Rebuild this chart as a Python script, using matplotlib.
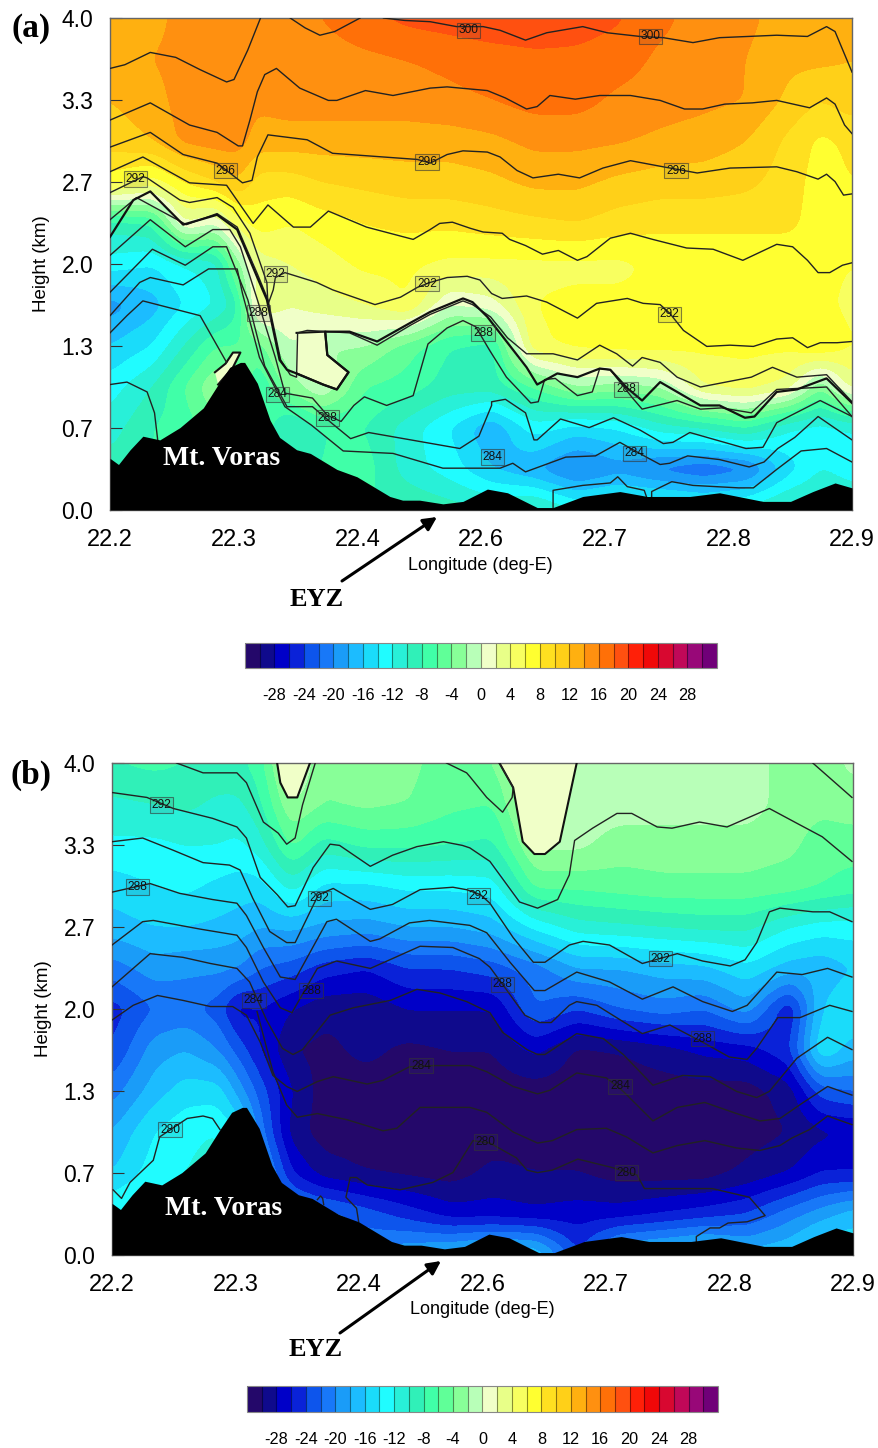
"""Two cross-sections (Mt. Voras): temperature anomaly shading with potential temperature lines."""
import numpy as np
import matplotlib
matplotlib.use("Agg")
import matplotlib.pyplot as plt
from matplotlib.patches import FancyArrowPatch

plt.rcParams["font.family"] = ["Liberation Sans", "DejaVu Sans"]
plt.rcParams["axes.unicode_minus"] = False

W, H = 879, 1448

# colour boxes, -32 .. 32 in steps of 2
LEVELS = np.arange(-32, 33, 2)
BOX_COLORS = ["#24086a", "#0f0a8c", "#0000c8", "#0a22d8", "#0d55ec", "#1878f8", "#1a9cf8", "#1cbcff",
              "#1adcfa", "#20fcff", "#28f0d8", "#30f0b8", "#40ffa8", "#60ff98", "#88ff98", "#b8ffb8",
              "#f0ffc8", "#e8ff88", "#f8ff60", "#ffff30", "#ffe020", "#ffd018", "#ffb010", "#ff9010",
              "#ff7008", "#ff5010", "#ff2008", "#f00808", "#d80830", "#c00858", "#980878", "#700078"]

X_TICKS = np.linspace(22.2, 22.9, 7)
X_LABELS = ["22.2", "22.3", "22.4", "22.6", "22.7", "22.8", "22.9"]
Y_TICKS = np.linspace(0, 4, 7)
Y_LABELS = ["0.0", "0.7", "1.3", "2.0", "2.7", "3.3", "4.0"]
BAR_TICKS = np.arange(-28, 29, 4)

GRID_LON = [22.20, 22.24, 22.27, 22.30, 22.32, 22.34, 22.37, 22.40, 22.44, 22.48, 22.52,
            22.56, 22.60, 22.64, 22.68, 22.72, 22.76, 22.80, 22.84, 22.87, 22.90]
GRID_KM = [0, 0.333, 0.667, 1.0, 1.333, 1.667, 2.0, 2.333, 2.667, 3.0, 3.333, 3.667, 4.0]

FIELD_A = [
    [-8, -8, -8, -8, -8, -8, -8, -8, -8, -8, -9, -10, -9, -12, -11, -11, -12, -11, -9, -9, -10],
    [-9, -8, -7, -7, -7, -7, -8, -8, -7, -11, -13, -16, -18, -21, -19, -21, -22, -21, -15, -12, -13],
    [-11, -8, -7, -5, -5, -6, -11, -8, -8, -11, -14, -18, -13, -15, -14, -11, -10, -8, -12, -13, -12],
    [-13, -10, -6, -2, -3, -8, -3, 0, -6, -7, -9, -9, -6, -2, -3, -2, 4, 5, 3, -4, 3],
    [-16, -14, -10, -6, -6, -5, 0, -2, -2, -5, -8, -9, 5.5, 6.5, 7, 7, 6.5, 6.5, 6.5, 8, 6],
    [-19, -17, -14, -12, -9, 4, 2, 3, 4, 6, 0, 1, 6, 6.5, 6.5, 6.5, 6.5, 6.5, 6.5, 6.5, 5.5],
    [-13, -14, -12, -11, -3, 3, 4, 5, 6.5, 6.5, 5.5, 5.5, 5.5, 5.5, 5.5, 6.5, 6.5, 6.5, 6.5, 6.5, 6],
    [-9, -8, 2, 0, 5, 7, 6, 7, 8, 8.5, 8.5, 9, 9.5, 10, 9, 8.5, 8.5, 8.5, 8.5, 7, 8],
    [7, 5, 8, 10, 12, 9, 9, 10, 10.5, 11, 11, 11.5, 12.5, 12.5, 11.5, 11, 11, 10.5, 9, 7, 8],
    [11, 12, 14.5, 15, 15, 13, 13, 13, 13, 13, 13, 13.5, 14.5, 14.5, 14.2, 13.5, 13, 12, 9.5, 7.5, 8.5],
    [12, 13, 15, 15, 15, 14.5, 15, 15, 15, 15, 15.5, 16, 16.8, 16.8, 15.5, 15, 14.5, 14, 11.5, 10, 11],
    [13, 14, 15, 15, 15, 15, 15, 15, 15.5, 16, 16.5, 17, 17.5, 17.5, 17, 15.5, 15, 14, 12.5, 12.5, 12],
    [13, 13, 15, 15, 15, 15, 15.5, 16, 17.5, 18.5, 19, 19.5, 19.5, 19, 18.2, 16.5, 15, 14.5, 13, 13, 14],
]
FIELD_B = [
    [-10, -10, -10, -12, -14, -18, -20, -21, -20, -18, -17, -15.5, -16, -24, -17, -16, -15, -17, -16, -13, -14],
    [-12, -10.5, -10, -11, -14, -18, -20, -21, -23, -25, -27, -27, -27.5, -27, -27, -26, -25, -24, -21, -19, -17],
    [-16, -13, -12, -11, -12, -18, -26, -29, -30, -30.5, -31, -29.5, -30, -30, -31, -31, -31, -29.5, -28, -26, -26],
    [-18, -14, -12.5, -12, -14, -21, -29, -31, -31, -31, -31, -31, -31, -31, -31, -31, -31, -31, -30, -28.5, -28],
    [-21, -17, -15, -15, -19, -23, -28, -31, -31, -31, -31, -31, -31, -31, -31, -31, -31, -31, -29, -23, -22],
    [-24, -19, -18, -20, -23, -26, -30, -30.5, -29.5, -30.5, -30, -30, -27.5, -30.5, -30, -29, -27.5, -27, -24.5, -14, -17],
    [-25, -22, -21.5, -23, -27, -26, -28, -29.5, -29.5, -28, -28, -28, -22, -24, -22, -21, -22, -19, -26, -16, -14],
    [-21, -19, -19.5, -19.5, -20, -22, -23, -25, -26, -24, -24, -23, -21, -18, -18, -17, -16.5, -14.5, -17, -17.5, -16],
    [-17, -16, -16, -16.5, -17, -18, -17.5, -18.5, -19, -18, -18, -17, -13.5, -11, -10.5, -10, -9.5, -9.5, -12, -13, -13],
    [-15, -14, -13.5, -14.5, -15, -15, -11, -14.5, -14.5, -13.5, -13.5, -13, -5.5, -5.5, -5, -4.5, -4.5, -4.5, -5, -6, -7],
    [-12.5, -12.5, -12, -12, -12.5, -11, -5.5, -9, -7.5, -7.5, -8, -8.5, -1.5, -1.5, -3, -3, -3, -3, -3.5, -5, -5],
    [-10.5, -10, -9.5, -10.5, -10.5, -8.5, -2, -4, -3.5, -4, -5.5, -6, 0.5, -1, -1, -1, -1, -1, -3, -3.5, -3],
    [-8, -7.5, -8, -8.5, -8.5, -7, 1, -4, -4, -3.5, -5, -4, 1, -1, -1, -1, -1, -1, -3, -3, -1.5],
]

TERRAIN = [(22.2, 0.42), (22.208, 0.37), (22.219, 0.49), (22.231, 0.60), (22.247, 0.57), (22.266, 0.67),
           (22.288, 0.83), (22.302, 1.02), (22.313, 1.16), (22.323, 1.20), (22.327, 1.20), (22.339, 1.03),
           (22.351, 0.73), (22.36, 0.59), (22.376, 0.49), (22.389, 0.46), (22.414, 0.33), (22.433, 0.27),
           (22.464, 0.11), (22.476, 0.08), (22.492, 0.08), (22.514, 0.05), (22.533, 0.07), (22.556, 0.17),
           (22.575, 0.14), (22.603, 0.02), (22.618, 0.02), (22.646, 0.11), (22.681, 0.15), (22.707, 0.11),
           (22.747, 0.11), (22.775, 0.14), (22.816, 0.07), (22.842, 0.07), (22.863, 0.15), (22.884, 0.22),
           (22.9, 0.18)]

# pale patches with a heavy outline
PATCH_A1 = [(22.376, 1.44), (22.403, 1.45), (22.405, 1.26), (22.425, 1.12), (22.414, 0.98), (22.401, 1.02), (22.376, 1.11)]
PATCH_A2 = [(22.299, 1.12), (22.309, 1.19), (22.316, 1.28), (22.323, 1.28), (22.316, 1.16), (22.302, 1.02)]
PATCH_B1 = [(22.356, 4.0), (22.359, 3.84), (22.366, 3.72), (22.375, 3.72), (22.387, 4.0)]
PATCH_B2 = [(22.566, 4.0), (22.579, 3.80), (22.588, 3.36), (22.599, 3.26), (22.609, 3.26), (22.623, 3.36), (22.639, 4.0)]

# panel (a) isentropes, (lon, km)
A_1 = [(22.2, 3.59), (22.214, 3.62), (22.238, 3.72), (22.262, 3.68), (22.285, 3.58), (22.31, 3.48),
       (22.317, 3.50), (22.33, 3.74), (22.342, 4.0)]
A_2 = [(22.37, 4.0), (22.384, 3.92), (22.398, 3.86), (22.412, 3.89), (22.436, 4.0)]
A_3 = [(22.458, 4.0), (22.478, 3.98), (22.502, 3.97), (22.527, 3.93), (22.552, 3.93), (22.568, 3.90),
       (22.592, 3.82), (22.612, 3.88), (22.646, 3.93), (22.669, 3.88), (22.7, 3.85), (22.722, 3.84),
       (22.75, 3.80), (22.775, 3.84), (22.829, 3.86), (22.858, 3.85), (22.876, 3.93), (22.884, 3.89), (22.9, 3.56)]
A_4 = [(22.2, 3.17), (22.238, 3.31), (22.275, 3.13), (22.301, 3.07), (22.321, 2.96), (22.325, 2.96),
       (22.332, 3.17), (22.339, 3.40), (22.346, 3.54), (22.357, 3.59), (22.379, 3.43), (22.406, 3.33),
       (22.414, 3.33), (22.441, 3.41), (22.467, 3.37), (22.502, 3.43), (22.518, 3.44), (22.556, 3.41),
       (22.573, 3.35), (22.593, 3.26), (22.603, 3.28), (22.615, 3.37), (22.639, 3.34), (22.662, 3.37),
       (22.691, 3.37), (22.719, 3.33), (22.742, 3.26), (22.759, 3.26), (22.78, 3.30), (22.806, 3.31),
       (22.829, 3.33), (22.86, 3.27), (22.876, 3.35), (22.884, 3.30), (22.893, 3.13), (22.9, 3.06)]
A_5 = [(22.2, 2.95), (22.238, 3.07), (22.269, 2.89), (22.301, 2.82), (22.325, 2.66), (22.334, 2.68),
       (22.339, 2.87), (22.349, 3.05), (22.386, 3.01), (22.41, 2.90), (22.442, 2.88), (22.49, 2.85),
       (22.502, 2.82), (22.518, 2.89), (22.533, 2.92), (22.556, 2.91), (22.568, 2.87), (22.584, 2.76),
       (22.599, 2.70), (22.623, 2.73), (22.643, 2.70), (22.665, 2.78), (22.691, 2.84), (22.722, 2.79),
       (22.754, 2.74), (22.785, 2.78), (22.829, 2.79), (22.848, 2.75), (22.868, 2.69), (22.876, 2.73),
       (22.884, 2.67), (22.892, 2.56), (22.9, 2.57)]
A_6 = [(22.2, 2.75), (22.231, 2.87), (22.275, 2.66), (22.31, 2.64), (22.335, 2.33), (22.349, 2.48),
       (22.373, 2.30), (22.389, 2.30), (22.406, 2.43), (22.442, 2.30), (22.486, 2.20), (22.502, 2.28),
       (22.511, 2.33), (22.523, 2.34), (22.54, 2.29), (22.552, 2.26), (22.57, 2.25), (22.577, 2.20),
       (22.592, 2.15), (22.608, 2.08), (22.623, 2.11), (22.641, 2.03), (22.65, 2.06), (22.672, 2.21),
       (22.691, 2.25), (22.712, 2.20), (22.744, 2.13), (22.769, 2.12), (22.797, 2.03), (22.829, 2.16),
       (22.844, 2.14), (22.858, 2.03), (22.868, 1.93), (22.879, 1.93), (22.891, 1.99), (22.9, 2.01)]
A_7 = [(22.2, 2.58), (22.231, 2.71), (22.235, 2.70), (22.266, 2.52), (22.275, 2.50), (22.301, 2.54),
       (22.316, 2.46), (22.332, 2.25), (22.348, 1.85), (22.349, 1.67), (22.354, 1.79), (22.356, 1.89),
       (22.365, 1.93), (22.395, 1.85), (22.41, 1.79), (22.45, 1.67), (22.474, 1.73), (22.49, 1.81),
       (22.502, 1.85), (22.518, 1.89), (22.537, 1.90), (22.549, 1.87), (22.56, 1.76), (22.57, 1.72),
       (22.593, 1.74), (22.612, 1.69), (22.641, 1.56), (22.659, 1.68), (22.688, 1.72), (22.703, 1.68),
       (22.719, 1.67), (22.728, 1.60), (22.741, 1.46), (22.763, 1.33), (22.785, 1.34), (22.807, 1.33),
       (22.829, 1.39), (22.844, 1.40), (22.858, 1.32), (22.87, 1.36), (22.886, 1.36), (22.9, 1.37)]
A_8 = [(22.2, 2.36), (22.225, 2.54), (22.272, 2.32), (22.301, 2.41), (22.32, 2.30), (22.339, 1.92),
       (22.349, 1.71), (22.361, 1.22), (22.37, 1.10), (22.376, 1.08), (22.377, 1.44), (22.386, 1.46),
       (22.426, 1.44), (22.452, 1.34), (22.483, 1.50), (22.502, 1.59), (22.533, 1.70), (22.542, 1.67),
       (22.559, 1.57), (22.575, 1.40), (22.593, 1.27), (22.618, 1.27), (22.641, 1.22), (22.662, 1.34),
       (22.678, 1.27), (22.693, 1.17), (22.702, 1.24), (22.719, 1.20), (22.735, 1.08), (22.757, 1.00),
       (22.805, 1.08), (22.825, 1.16), (22.848, 1.08), (22.876, 1.10), (22.9, 0.88)]
A_9 = [(22.2, 2.22), (22.222, 2.52), (22.238, 2.59), (22.269, 2.32), (22.301, 2.40), (22.32, 2.28),
       (22.339, 1.89), (22.348, 1.71), (22.36, 1.22), (22.367, 1.14), (22.376, 1.11), (22.401, 1.02),
       (22.414, 0.98), (22.425, 1.12), (22.405, 1.26), (22.403, 1.45), (22.426, 1.45), (22.452, 1.37),
       (22.483, 1.52), (22.502, 1.61), (22.533, 1.72), (22.542, 1.69), (22.556, 1.57), (22.575, 1.36),
       (22.593, 1.16), (22.603, 1.02), (22.622, 1.11), (22.641, 1.08), (22.662, 1.15), (22.672, 1.14),
       (22.688, 0.99), (22.702, 0.89), (22.719, 1.04), (22.757, 0.85), (22.775, 0.85), (22.799, 0.75),
       (22.808, 0.76), (22.829, 0.96), (22.848, 0.98), (22.876, 1.07), (22.9, 0.87)]
A_10 = [(22.2, 2.07), (22.238, 2.36), (22.271, 2.14), (22.297, 2.28), (22.313, 2.28), (22.323, 2.14),
        (22.339, 1.71), (22.356, 1.24), (22.365, 0.95), (22.391, 0.91), (22.405, 0.77), (22.418, 0.72),
        (22.43, 0.85), (22.44, 0.92), (22.461, 0.85), (22.486, 0.93), (22.5, 1.35), (22.518, 1.48),
        (22.533, 1.54), (22.545, 1.49), (22.558, 1.30), (22.574, 1.08), (22.597, 0.87), (22.604, 0.88),
        (22.61, 1.06), (22.62, 1.07), (22.641, 0.93), (22.655, 0.96), (22.662, 1.15), (22.672, 1.14),
        (22.693, 0.91), (22.702, 0.82), (22.735, 0.89), (22.757, 0.82), (22.777, 0.83), (22.805, 0.79),
        (22.829, 0.98), (22.876, 1.0), (22.9, 0.76)]
A_11 = [(22.2, 1.77), (22.24, 2.12), (22.271, 1.99), (22.297, 2.14), (22.31, 2.14), (22.33, 1.71),
        (22.346, 1.17), (22.367, 0.84), (22.391, 0.84), (22.41, 0.70), (22.427, 0.58), (22.444, 0.63),
        (22.53, 0.50), (22.548, 0.60), (22.56, 0.85), (22.56, 0.88), (22.573, 0.90), (22.592, 0.79),
        (22.6, 0.57), (22.603, 0.57), (22.625, 0.74), (22.652, 0.67), (22.675, 0.75), (22.7, 0.65),
        (22.722, 0.54), (22.731, 0.55), (22.747, 0.63), (22.8, 0.50), (22.816, 0.51), (22.829, 0.71),
        (22.87, 0.89), (22.9, 0.76)]
A_12 = [(22.2, 1.58), (22.228, 1.85), (22.238, 1.89), (22.269, 1.83), (22.293, 1.96), (22.32, 1.96),
        (22.325, 1.76), (22.341, 1.24), (22.365, 0.84), (22.39, 0.69), (22.41, 0.55), (22.42, 0.48),
        (22.467, 0.46), (22.514, 0.34), (22.568, 0.34), (22.58, 0.38), (22.592, 0.31), (22.63, 0.43),
        (22.658, 0.44), (22.681, 0.55), (22.706, 0.43), (22.719, 0.37), (22.728, 0.38), (22.745, 0.44),
        (22.775, 0.41), (22.803, 0.35), (22.817, 0.39), (22.83, 0.50), (22.846, 0.59), (22.868, 0.76), (22.9, 0.57)]
A_13 = [(22.2, 1.44), (22.216, 1.58), (22.231, 1.70), (22.285, 1.58), (22.31, 1.20)]
A_14 = [(22.2, 1.02), (22.216, 1.04), (22.235, 0.96), (22.242, 0.79), (22.245, 0.57)]
A_15 = [(22.9, 0.39), (22.876, 0.50), (22.852, 0.48), (22.829, 0.33), (22.807, 0.18), (22.793, 0.18),
        (22.75, 0.20), (22.73, 0.23), (22.711, 0.15), (22.711, 0.11)]
A_16 = [(22.618, 0.02), (22.618, 0.16), (22.646, 0.20), (22.672, 0.22), (22.679, 0.27), (22.688, 0.19),
        (22.704, 0.16), (22.706, 0.11)]
LINES_A = [A_1, A_2, A_3, A_4, A_5, A_6, A_7, A_8, A_10, A_11, A_12, A_13, A_14, A_15, A_16]
BOLD_A = [A_9]

# panel (b) isentropes
B_1 = [(22.261, 4.0), (22.286, 3.92), (22.318, 3.92), (22.327, 3.84), (22.343, 3.52), (22.357, 3.43),
       (22.365, 3.34), (22.373, 3.39), (22.38, 3.66), (22.392, 4.0)]
B_2 = [(22.2, 3.76), (22.233, 3.72), (22.258, 3.63), (22.295, 3.55), (22.318, 3.48), (22.327, 3.39),
       (22.34, 3.07), (22.356, 2.93), (22.366, 2.83), (22.373, 2.84), (22.39, 3.15), (22.406, 3.34),
       (22.415, 3.33), (22.444, 3.16), (22.465, 3.25), (22.488, 3.32), (22.513, 3.36), (22.531, 3.33),
       (22.538, 3.31), (22.557, 3.20), (22.585, 2.87), (22.602, 2.82), (22.621, 2.89), (22.632, 3.09),
       (22.637, 3.37), (22.654, 3.47), (22.677, 3.59), (22.691, 3.59), (22.715, 3.48), (22.729, 3.47),
       (22.755, 3.52), (22.781, 3.48), (22.821, 3.63), (22.847, 3.51), (22.871, 3.40), (22.899, 3.20)]
B_3 = [(22.516, 4.0), (22.535, 3.92), (22.538, 3.89), (22.554, 3.72), (22.569, 3.60), (22.578, 3.72),
       (22.579, 3.80), (22.566, 4.0)]
B_4 = [(22.862, 4.0), (22.899, 3.72)]
B_5 = [(22.2, 3.36), (22.229, 3.39), (22.258, 3.29), (22.286, 3.19), (22.311, 3.17), (22.321, 3.13),
       (22.333, 2.90), (22.349, 2.63), (22.365, 2.54), (22.373, 2.54), (22.395, 2.93), (22.409, 2.98),
       (22.425, 2.90), (22.444, 2.81), (22.465, 2.85), (22.491, 2.97), (22.522, 2.99), (22.535, 2.97),
       (22.548, 2.93), (22.557, 2.86), (22.579, 2.58), (22.598, 2.38), (22.609, 2.38), (22.632, 2.52),
       (22.645, 2.55), (22.67, 2.52), (22.701, 2.37), (22.734, 2.45), (22.758, 2.39), (22.784, 2.35),
       (22.798, 2.40), (22.809, 2.54), (22.821, 2.79), (22.831, 2.82), (22.862, 2.79), (22.878, 2.79), (22.899, 2.71)]
B_6 = [(22.2, 2.95), (22.236, 3.02), (22.264, 2.94), (22.295, 2.89), (22.318, 2.86), (22.327, 2.76),
       (22.343, 2.50), (22.359, 2.26), (22.373, 2.24), (22.403, 2.71), (22.412, 2.73), (22.428, 2.64),
       (22.444, 2.55), (22.453, 2.57), (22.481, 2.70), (22.5, 2.72), (22.538, 2.68), (22.554, 2.62),
       (22.576, 2.38), (22.599, 2.15), (22.609, 2.15), (22.639, 2.30), (22.67, 2.22), (22.701, 2.08),
       (22.73, 2.18), (22.758, 2.06), (22.786, 1.98), (22.8, 2.03), (22.828, 2.30), (22.852, 2.28),
       (22.876, 2.33), (22.899, 2.26)]
B_7 = [(22.2, 2.52), (22.229, 2.71), (22.239, 2.72), (22.283, 2.65), (22.318, 2.60), (22.327, 2.50),
       (22.343, 2.22), (22.359, 2.01), (22.37, 1.97), (22.394, 2.33), (22.412, 2.39), (22.444, 2.33),
       (22.465, 2.41), (22.491, 2.51), (22.522, 2.50), (22.547, 2.41), (22.557, 2.34), (22.569, 2.20),
       (22.59, 1.95), (22.604, 1.89), (22.615, 1.89), (22.632, 2.03), (22.639, 2.06), (22.658, 2.03),
       (22.701, 1.80), (22.727, 1.87), (22.758, 1.73), (22.783, 1.61), (22.8, 1.59), (22.809, 1.68),
       (22.829, 1.93), (22.85, 1.93), (22.878, 2.03), (22.899, 1.98)]
B_8 = [(22.2, 2.18), (22.236, 2.45), (22.267, 2.42), (22.293, 2.37), (22.318, 2.33), (22.33, 2.22),
       (22.346, 1.91), (22.361, 1.68), (22.371, 1.63), (22.38, 1.67), (22.406, 1.95), (22.428, 2.01),
       (22.463, 2.07), (22.488, 2.16), (22.51, 2.13), (22.535, 2.06), (22.557, 1.97), (22.569, 1.81),
       (22.592, 1.67), (22.602, 1.63), (22.609, 1.63), (22.639, 1.80), (22.664, 1.76), (22.683, 1.63),
       (22.711, 1.38), (22.739, 1.46), (22.765, 1.45), (22.79, 1.33), (22.809, 1.28), (22.821, 1.33),
       (22.847, 1.60), (22.876, 1.77), (22.899, 1.67)]
B_9 = [(22.2, 1.91), (22.22, 2.03), (22.243, 2.11), (22.267, 2.07), (22.293, 2.02), (22.314, 2.02),
       (22.327, 1.95), (22.34, 1.73), (22.352, 1.46), (22.365, 1.37), (22.375, 1.33), (22.394, 1.41),
       (22.409, 1.45), (22.441, 1.39), (22.456, 1.42), (22.481, 1.53), (22.503, 1.54), (22.538, 1.54),
       (22.554, 1.49), (22.579, 1.37), (22.602, 1.31), (22.614, 1.34), (22.639, 1.48), (22.667, 1.44),
       (22.683, 1.33), (22.711, 1.09), (22.734, 1.20), (22.76, 1.24), (22.79, 1.15), (22.812, 1.09),
       (22.831, 1.11), (22.853, 1.24), (22.876, 1.37), (22.899, 1.30)]
B_10 = [(22.337, 1.98), (22.352, 1.49), (22.365, 1.22), (22.375, 1.12), (22.394, 1.15), (22.422, 1.10),
        (22.456, 1.01), (22.469, 1.03), (22.491, 1.20), (22.538, 1.20), (22.554, 1.16), (22.579, 1.00),
        (22.602, 0.91), (22.616, 0.93), (22.639, 1.02), (22.667, 1.03), (22.686, 0.96), (22.711, 0.83),
        (22.734, 0.89), (22.76, 0.93), (22.79, 0.87), (22.812, 0.85), (22.831, 0.89), (22.842, 0.95),
        (22.859, 1.02), (22.876, 1.13), (22.899, 1.06)]
B_11 = [(22.433, 0.27), (22.431, 0.38), (22.421, 0.47), (22.425, 0.63), (22.431, 0.63), (22.441, 0.57),
        (22.472, 0.53), (22.503, 0.59), (22.522, 0.67), (22.541, 0.93), (22.557, 0.91), (22.582, 0.79),
        (22.592, 0.69), (22.602, 0.67), (22.616, 0.69), (22.64, 0.78), (22.673, 0.71), (22.696, 0.65),
        (22.703, 0.54), (22.717, 0.54), (22.767, 0.54), (22.802, 0.47), (22.817, 0.32), (22.8, 0.27),
        (22.782, 0.26), (22.774, 0.22), (22.765, 0.22), (22.752, 0.15), (22.752, 0.11)]
B_12 = [(22.201, 0.53), (22.209, 0.46), (22.217, 0.59), (22.239, 0.77), (22.245, 0.96), (22.271, 1.11),
        (22.286, 1.13), (22.295, 1.11), (22.302, 1.02)]
B_13 = [(22.394, 0.45), (22.397, 0.48), (22.399, 0.46), (22.4, 0.41)]
LINES_B = [B_1, B_2, B_3, B_4, B_5, B_6, B_7, B_8, B_9, B_10, B_11, B_12, B_13]

# contour labels
LABELS_A = [("300", 22.538, 3.90), ("300", 22.71, 3.85), ("296", 22.309, 2.76), ("296", 22.499, 2.83),
            ("296", 22.734, 2.76), ("292", 22.224, 2.69), ("292", 22.356, 1.92), ("292", 22.499, 1.84),
            ("292", 22.728, 1.59), ("288", 22.34, 1.60), ("288", 22.552, 1.44), ("288", 22.687, 0.98),
            ("288", 22.405, 0.75), ("284", 22.358, 0.94), ("284", 22.561, 0.43), ("284", 22.695, 0.46)]
LABELS_B = [("292", 22.247, 3.66), ("292", 22.396, 2.90), ("292", 22.546, 2.92), ("292", 22.718, 2.41),
            ("288", 22.224, 2.99), ("288", 22.388, 2.15), ("288", 22.569, 2.20), ("288", 22.758, 1.76),
            ("284", 22.334, 2.07), ("284", 22.492, 1.54), ("284", 22.68, 1.37),
            ("280", 22.255, 1.02), ("280", 22.553, 0.92), ("280", 22.686, 0.67)]


def box(x0, y0, x1, y1):
    """Pixel box of the reference -> fig.add_axes rectangle."""
    return [x0 / W, 1 - y1 / H, (x1 - x0) / W, (y1 - y0) / H]


def blur(arr, k, axis):
    pad = [(0, 0), (0, 0)]
    pad[axis] = (k // 2, k // 2)
    padded = np.pad(arr, pad, mode="edge")
    return np.apply_along_axis(lambda v: np.convolve(v, np.ones(k) / k, mode="valid"), axis, padded)


def soften(field):
    """Fine grid from the read values, rounded a little so bands are not angular."""
    lon = np.linspace(GRID_LON[0], GRID_LON[-1], 371)
    km = np.linspace(GRID_KM[0], GRID_KM[-1], 246)
    rows = np.array([np.interp(lon, GRID_LON, r) for r in field])
    fine = np.array([np.interp(km, GRID_KM, c) for c in rows.T]).T
    for _ in range(2):
        fine = blur(blur(fine, 7, 1), 7, 0)
    return lon, km, fine


def draw_panel(fig, rect, field, lines, bold, patches, labels, voras_km):
    ax = fig.add_axes(rect)
    cs = ax.contourf(*soften(field), levels=LEVELS, colors=BOX_COLORS)
    for p in patches:
        xy = np.array(p)
        ax.fill(xy[:, 0], xy[:, 1], color=BOX_COLORS[16], lw=0, zorder=2)
        ax.plot(xy[:, 0], xy[:, 1], color="#111111", lw=1.5, zorder=3)
    for ln in lines:
        xy = np.array(ln)
        ax.plot(xy[:, 0], xy[:, 1], color="#222222", lw=1.0, zorder=3, solid_joinstyle="round")
    for ln in bold:
        xy = np.array(ln)
        ax.plot(xy[:, 0], xy[:, 1], color="#111111", lw=1.6, zorder=3, solid_joinstyle="round")
    t = np.array(TERRAIN)
    ax.fill_between(t[:, 0], 0, t[:, 1], color="black", lw=0, zorder=4)
    for s, lon, km in labels:
        ax.text(lon, km, s, fontsize=8.6, ha="center", va="center", color="#111111", zorder=5,
                bbox=dict(boxstyle="square,pad=0.15", fc=(0.3, 0.3, 0.3, 0.12), ec=(0.2, 0.2, 0.2, 0.6), lw=0.8))
    ax.set_xlim(22.2, 22.9)
    ax.set_ylim(0, 4)
    ax.set_xticks(X_TICKS, X_LABELS, fontsize=17)
    ax.set_yticks(Y_TICKS, Y_LABELS, fontsize=16.5)
    ax.tick_params(axis="x", length=0, pad=13.5)
    ax.tick_params(axis="y", direction="in", length=8.6, width=0.8, pad=12, color="#333333")
    for sp in ax.spines.values():
        sp.set_color("#666666")
        sp.set_linewidth(1.0)
    ax.text(22.305, voras_km, "Mt. Voras", family=["Liberation Serif"], weight="bold", fontsize=20,
            color="white", ha="center", va="center", zorder=6)
    return cs


def draw_bar(fig, cs, rect):
    cax = fig.add_axes(rect)
    cb = fig.colorbar(cs, cax=cax, orientation="horizontal", ticks=BAR_TICKS, drawedges=True)
    cb.dividers.set_color((0, 0, 0, 0.45))
    cb.dividers.set_linewidth(0.8)
    cb.outline.set_edgecolor("#888888")
    cb.outline.set_linewidth(0.8)
    cax.tick_params(length=0, labelsize=11.7, pad=14.5)
    cax.set_xticklabels([str(v) for v in BAR_TICKS])


def px_text(fig, x, y, s, **kw):
    fig.text(x / W, 1 - y / H, s, ha="center", va="center", **kw)


def arrow(fig, x0, y0, x1, y1):
    fig.add_artist(FancyArrowPatch((x0 / W, 1 - y0 / H), (x1 / W, 1 - y1 / H), transform=fig.transFigure,
                                   arrowstyle="-|>", mutation_scale=20, lw=2.2, color="black",
                                   shrinkA=0, shrinkB=0))


def main():
    fig = plt.figure(figsize=(W / 100, H / 100), dpi=100)

    cs = draw_panel(fig, box(110, 18, 852, 510), FIELD_A, LINES_A, BOLD_A, [PATCH_A1, PATCH_A2], LABELS_A, 0.42)
    draw_bar(fig, cs, box(245, 643, 717, 668))
    cs = draw_panel(fig, box(112, 763, 853, 1255), FIELD_B, LINES_B, [], [PATCH_B1, PATCH_B2], LABELS_B, 0.38)
    draw_bar(fig, cs, box(247, 1386, 718, 1412))

    serif = dict(family=["Liberation Serif"], weight="bold")
    px_text(fig, 31, 29, "(a)", fontsize=24, **serif)
    px_text(fig, 31, 775, "(b)", fontsize=24, **serif)
    px_text(fig, 317, 600, "EYZ", fontsize=19, **serif)
    px_text(fig, 316, 1349, "EYZ", fontsize=19, **serif)
    px_text(fig, 42, 264, "Height (km)", fontsize=13.5, rotation=90)
    px_text(fig, 44, 1009, "Height (km)", fontsize=13.5, rotation=90)
    px_text(fig, 480, 566, "Longitude (deg-E)", fontsize=13)
    px_text(fig, 482, 1309, "Longitude (deg-E)", fontsize=13)
    arrow(fig, 342, 581, 437, 517)
    arrow(fig, 340, 1333, 441, 1261)

    fig.savefig("out.png", dpi=100)


if __name__ == "__main__":
    main()
